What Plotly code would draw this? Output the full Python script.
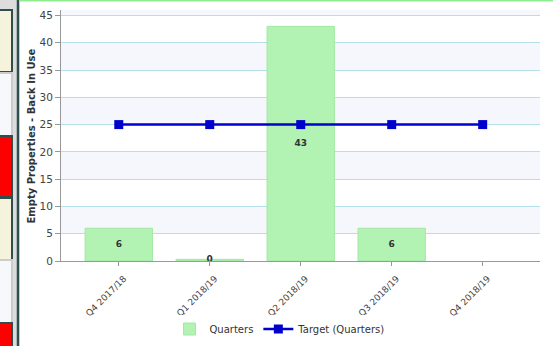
import plotly.graph_objects as go

# ---- data ----
categories = ["Q4 2017/18", "Q1 2018/19", "Q2 2018/19", "Q3 2018/19", "Q4 2018/19"]
quarters = [6, 0.3, 43, 6, None]
quarter_labels = ["6", "0", "43", "6", ""]
target = [25, 25, 25, 25, 25]
y_ticks = [0, 5, 10, 15, 20, 25, 30, 35, 40, 45]
y_title = "Empty Properties - Back In Use"

W, H = 553, 346
ML, MR, MT, MB = 61, 13, 10, 85
PW, PH = W - ML - MR, H - MT - MB

def px(x):
    return (x - ML) / PW

def py(y):
    return (H - MB - y) / PH

FONT = "DejaVu Sans"
fig = go.Figure()

fig.add_trace(go.Bar(
    x=categories, y=quarters, name="Quarters",
    marker=dict(color="#b2f2b2", line=dict(color="#a2e8a2", width=1)),
    width=0.74, showlegend=True,
))
fig.add_trace(go.Scatter(
    x=categories, y=[(v / 2 if v is not None else None) for v in quarters],
    mode="text", text=quarter_labels, showlegend=False, hoverinfo="skip",
    textfont=dict(family=FONT, size=9, color="#333333", weight="bold"),
    cliponaxis=True,
))
fig.add_trace(go.Scatter(
    x=categories, y=target, name="Target (Quarters)", mode="lines+markers",
    line=dict(color="#0000cc", width=2.5),
    marker=dict(symbol="square", size=9, color="#0000cc"),
))

shapes = []
# alternating bands
bands = y_ticks[1::2]
for b in bands:
    shapes.append(dict(type="rect", xref="paper", yref="y", x0=0, x1=1, y0=b, y1=min(b + 5, 46),
                       fillcolor="#f5f7fd", line=dict(width=0), layer="below"))
# decor left panel
cell_rows = [(0, 10, "#dddddd", "#dddddd"), (10, 72, "#f5f3dc", "#2f4f4f"), (73, 136, "#f7f8fc", "#cccccc"),
             (136, 197, "#ff0000", "#2f4f4f"), (198, 260, "#f5f3dc", "#2f4f4f"),
             (260, 323, "#f7f8fc", "#cccccc"), (323, 350, "#ff0000", "#2f4f4f")]
for y0, y1, fc, lc in cell_rows:
    shapes.append(dict(type="rect", xref="paper", yref="paper", x0=px(-2), x1=px(12),
                       y0=py(y1), y1=py(y0), fillcolor=fc, line=dict(color=lc, width=2), layer="above"))
shapes.append(dict(type="rect", xref="paper", yref="paper", x0=px(13), x1=px(16.7), y0=py(350), y1=py(-2),
                   fillcolor="#dcdcdc", line=dict(width=0)))
shapes.append(dict(type="rect", xref="paper", yref="paper", x0=px(16.7), x1=px(19.3), y0=py(350), y1=py(-2),
                   fillcolor="#2f4f4f", line=dict(width=0)))
shapes.append(dict(type="rect", xref="paper", yref="paper", x0=px(19.3), x1=px(560), y0=py(1.5), y1=py(-2),
                   fillcolor="#90ee90", line=dict(width=0)))

fig.update_layout(
    width=W, height=H,
    margin=dict(l=ML, r=MR, t=MT, b=MB, autoexpand=False),
    paper_bgcolor="white", plot_bgcolor="white",
    font=dict(family=FONT, size=10, color="#444444"),
    shapes=shapes,
    bargap=0.26,
    legend=dict(orientation="h", x=px(280), xanchor="center", y=py(329), yanchor="middle",
                font=dict(family=FONT, size=10, color="#333333"), itemwidth=30,
                tracegroupgap=0),
    xaxis=dict(
        range=[-0.635, 4.63], tickangle=-45, tickfont=dict(size=9, color="#444444"),
        ticks="outside", ticklen=4, tickcolor="#999999", showline=True, linecolor="#999999",
        showgrid=False, zeroline=False, automargin=False,
        ticklabelstandoff=4, ticklabelshift=5,
    ),
    yaxis=dict(
        range=[0, 46], tickvals=y_ticks, ticks="outside", ticklen=5, tickcolor="#999999",
        showline=True, linecolor="#999999", gridcolor="#b4e0ea", gridwidth=1, zeroline=False,
        tickfont=dict(size=10.5, color="#444444"), automargin=False,
    ),
    annotations=[dict(text=y_title, xref="paper", yref="paper", x=px(30.5), y=py(136),
                      xanchor="center", yanchor="middle", textangle=-90, showarrow=False,
                      font=dict(family=FONT, size=10, color="#333333", weight="bold"))],
)

fig.write_html("out.html")
